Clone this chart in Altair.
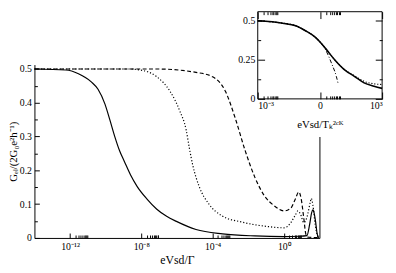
import math
import altair as alt
import pandas as pd

# ---------------- data ----------------
# main panel: x as log10(eV_sd/Gamma), y = G_el/(2 G_0 e^2 h^-1)
solid_logx = [-14, -12.24, -11.53, -10.81, -10.43, -10.04, -9.77, -9.49, -9.22, -8.94,
              -8.61, -8.23, -7.68, -7.13, -6.58, -6.03, -4.93, -3.44, -1.63, 0.02,
              0.84, 1.3, 1.45, 1.56, 1.63, 1.67, 1.78, 1.86, 1.95]
solid_y = [0.5, 0.497, 0.486, 0.462, 0.44, 0.396, 0.35, 0.3, 0.258, 0.225,
           0.187, 0.152, 0.115, 0.085, 0.064, 0.049, 0.025, 0.012, 0.006, 0.004,
           0.005, 0.007, 0.04, 0.074, 0.083, 0.08, 0.05, 0.016, 0.0]

dotted_logx = [-14, -8.78, -7.95, -7.13, -6.4, -5.85, -5.48, -5.3, -5.11, -4.75,
               -4.2, -3.46, -2.36, -1.08, 0.02, 0.39, 0.66, 0.79, 0.94, 1.12,
               1.29, 1.49, 1.54, 1.63, 1.76, 1.89, 2.0]
dotted_y = [0.5, 0.5, 0.496, 0.477, 0.435, 0.377, 0.319, 0.265, 0.215, 0.152,
            0.1, 0.065, 0.047, 0.035, 0.03, 0.045, 0.069, 0.08, 0.07, 0.045,
            0.06, 0.107, 0.117, 0.098, 0.04, 0.007, 0.0]

dashed_logx = [-14, -7.13, -4.93, -4.0, -3.28, -2.73, -2.18, -1.63, -1.08, -0.53,
               0.02, 0.39, 0.66, 0.84, 0.97, 1.12, 1.24, 1.39, 1.94]
dashed_y = [0.5, 0.5, 0.49, 0.477, 0.434, 0.355, 0.26, 0.18, 0.124, 0.095,
            0.08, 0.088, 0.117, 0.136, 0.117, 0.059, 0.011, 0.002, 0.001]

# inset: x as log10(eV_sd/T_K^2CK)
inset_solid_logx = [-3, -1.8, -1.17, -0.7, -0.23, 0.08, 0.4, 0.72, 1.19, 1.66, 2.13, 2.61, 3.0]
inset_solid_y = [0.498, 0.483, 0.467, 0.435, 0.394, 0.352, 0.3, 0.248, 0.185, 0.144, 0.102, 0.081, 0.067]
inset_dotted_logx = [-3, -1.8, -1.17, -0.7, -0.23, 0.08, 0.4, 0.72, 1.19, 1.66, 2.13, 2.61, 3.0]
inset_dotted_y = [0.498, 0.483, 0.467, 0.435, 0.394, 0.352, 0.3, 0.248, 0.187, 0.148, 0.112, 0.096, 0.092]
inset_dashdot_logx = [-3, -1.8, -1.17, -0.7, -0.23, 0.01, 0.245, 0.56, 0.79, 0.87]
inset_dashdot_y = [0.498, 0.483, 0.467, 0.435, 0.394, 0.3625, 0.32, 0.227, 0.144, 0.102]

# ticks / labels
main_x_major = [1e-12, 1e-8, 1e-4, 1.0]
main_x_labels = ["10⁻¹²", "10⁻⁸", "10⁻⁴", "10⁰"]
main_x_minor = [k * v for v in main_x_major for k in range(2, 10)]
main_y_major = [0, 0.1, 0.2, 0.3, 0.4, 0.5]
main_y_minor = [0.05, 0.15, 0.25, 0.35, 0.45]
inset_x_major = [1e-3, 1.0, 1e3]
inset_x_labels = ["10⁻³", "0", "10³"]
inset_x_minor = [k * v for v in [1e-3, 1.0] for k in range(2, 10)]
inset_y_major = [0, 0.25, 0.5]
inset_y_minor = [0.125, 0.375]

MAIN_TITLE_X = "eVsd/Γ"
MAIN_TITLE_Y = "Gₑₗ/(2G₀e²h⁻¹)"
INSET_TITLE_X = "eVsd/Tₖ²ᶜᴷ"

FONT = "Liberation Serif"
W, H = 291, 177


def frame(logx, y):
    return pd.DataFrame({"x": [10 ** v for v in logx], "y": y})


def label_expr(values, labels):
    expr = "''"
    for v, l in zip(values, labels):
        e = round(math.log10(v))
        expr = f"round(log(datum.value)/LN10) == {e} ? '{l}' : ({expr})"
    return expr


mx = alt.Scale(type="log", domain=[1e-14, 1e2], nice=False)
my = alt.Scale(domain=[0, 0.513], nice=False, zero=False)
ix = alt.Scale(type="log", domain=[1e-3, 1e3], nice=False, range=[228, 355])
iy = alt.Scale(domain=[0, 0.55625], nice=False, zero=False, range=[35, -54])

# main axes
ax_main_bottom = alt.Axis(orient="bottom", values=main_x_major, tickSize=5, offset=-5, domain=False,
                          labelExpr=label_expr(main_x_major, main_x_labels), labelPadding=4,
                          title=MAIN_TITLE_X, titlePadding=3, labelOverlap=False)
ax_main_bottom_minor = alt.Axis(orient="bottom", values=main_x_minor, tickSize=3, offset=-3,
                                domain=False, labels=False, title=None)
ax_main_bottom_dom = alt.Axis(orient="bottom", ticks=False, labels=False, title=None, domain=True)
ay_main_left = alt.Axis(orient="left", values=main_y_major, tickSize=5, offset=-5, domain=False,
                        format=".1~f", labelPadding=3, title=MAIN_TITLE_Y, titlePadding=1,
                        titleFontSize=11, labelOverlap=False)
ay_main_left_minor = alt.Axis(orient="left", values=main_y_minor, tickSize=3, offset=-3,
                              domain=False, labels=False, title=None)
ay_main_left_dom = alt.Axis(orient="left", ticks=False, labels=False, title=None, domain=True)
ay_main_right_dom = alt.Axis(orient="right", ticks=False, labels=False, title=None, domain=True)

# inset axes (drawn above marks)
ax_in_bottom = alt.Axis(orient="bottom", values=inset_x_major, tickSize=7, offset=-149, domain=False,
                        labelExpr=label_expr(inset_x_major, inset_x_labels), labelPadding=2,
                        title=INSET_TITLE_X, titlePadding=8, titleFontSize=11, labelOverlap=False,
                        zindex=1)
ax_in_bottom_minor = alt.Axis(orient="bottom", values=inset_x_minor, tickSize=3, offset=-145,
                              domain=False, labels=False, title=None, zindex=1)
ax_in_top = alt.Axis(orient="top", values=inset_x_major, tickSize=7, offset=47, domain=False,
                     labels=False, title=None, zindex=1)
ax_in_top_minor = alt.Axis(orient="top", values=inset_x_minor, tickSize=3, offset=51, domain=False,
                           labels=False, title=None, zindex=1)
ay_in_left = alt.Axis(orient="left", values=inset_y_major, tickSize=7, offset=-235, domain=False,
                      format=".2~f", labelPadding=3, title=None, labelOverlap=False, zindex=1)
ay_in_left_minor = alt.Axis(orient="left", values=inset_y_minor, tickSize=3, offset=-231,
                            domain=False, labels=False, title=None, zindex=1)
ay_in_right = alt.Axis(orient="right", values=inset_y_major, tickSize=7, offset=57, domain=False,
                       labels=False, title=None, zindex=1)
ay_in_right_minor = alt.Axis(orient="right", values=inset_y_minor, tickSize=3, offset=61,
                             domain=False, labels=False, title=None, zindex=1)


def curve(df, xs, ys, xa, ya, dash=None, width=1.2, opacity=1.0):
    kw = dict(color="black", strokeWidth=width, interpolate="monotone", opacity=opacity)
    if dash is not None:
        kw["strokeDash"] = dash
    return alt.Chart(df).mark_line(**kw).encode(
        x=alt.X("x:Q", scale=xs, axis=xa),
        y=alt.Y("y:Q", scale=ys, axis=ya),
    )


df_solid = frame(solid_logx, solid_y)
df_dotted = frame(dotted_logx, dotted_y)
df_dashed = frame(dashed_logx, dashed_y)
df_isolid = frame(inset_solid_logx, inset_solid_y)
df_idotted = frame(inset_dotted_logx, inset_dotted_y)
df_idashdot = frame(inset_dashdot_logx, inset_dashdot_y)
one = pd.DataFrame({"a": [0]})

l_solid = curve(df_solid, mx, my, ax_main_bottom, ay_main_left, width=1.2)
l_dotted = curve(df_dotted, mx, my, ax_main_bottom_minor, ay_main_left_minor, dash=[1.2, 2], width=1.2)
l_dashed = curve(df_dashed, mx, my, ax_main_bottom_dom, ay_main_left_dom, dash=[4, 2.5], width=1.2)
l_dummy = curve(df_solid, mx, my, None, ay_main_right_dom, opacity=0)

inset_bg = alt.Chart(one).mark_rect(color="white").encode(
    x=alt.XDatum(10 ** -3.76, type="quantitative", scale=ix, axis=None),
    x2=alt.X2Datum(10 ** 3.6),
    y=alt.YDatum(-0.244, type="quantitative", scale=iy, axis=None),
    y2=alt.Y2Datum(0.7),
)
inset_frame = alt.Chart(one).mark_rect(fill="white", stroke="black", strokeWidth=1).encode(
    x=alt.XDatum(1e-3, type="quantitative", scale=ix, axis=ax_in_top_minor),
    x2=alt.X2Datum(1e3),
    y=alt.YDatum(0, type="quantitative", scale=iy, axis=ay_in_right_minor),
    y2=alt.Y2Datum(0.55625),
)
i_solid = curve(df_isolid, ix, iy, ax_in_bottom, ay_in_left, width=1.6)
i_dotted = curve(df_idotted, ix, iy, ax_in_bottom_minor, ay_in_left_minor, dash=[1.2, 1.8], width=1.1)
i_dashdot = curve(df_idashdot, ix, iy, ax_in_top, ay_in_right, dash=[4, 2, 1, 2], width=1.0)

chart = (
    alt.layer(l_solid, l_dotted, l_dashed, l_dummy, inset_bg, inset_frame, i_solid, i_dotted, i_dashdot)
    .resolve_scale(x="independent", y="independent")
    .resolve_axis(x="independent", y="independent")
    .properties(
        width=W,
        height=H,
        padding={"left": 27, "top": 55, "right": 70, "bottom": 33},
        autosize=alt.AutoSizeParams(type="none"),
        background="white",
    )
    .configure_view(stroke="transparent")
    .configure_axis(
        labelFont=FONT, titleFont=FONT, labelFontSize=10, titleFontSize=12,
        titleFontWeight="normal", labelColor="black", titleColor="black",
        tickColor="black", domainColor="black", grid=False, tickWidth=1,
    )
)

chart.save("out.html", embed_options={"renderer": "svg", "actions": False})
